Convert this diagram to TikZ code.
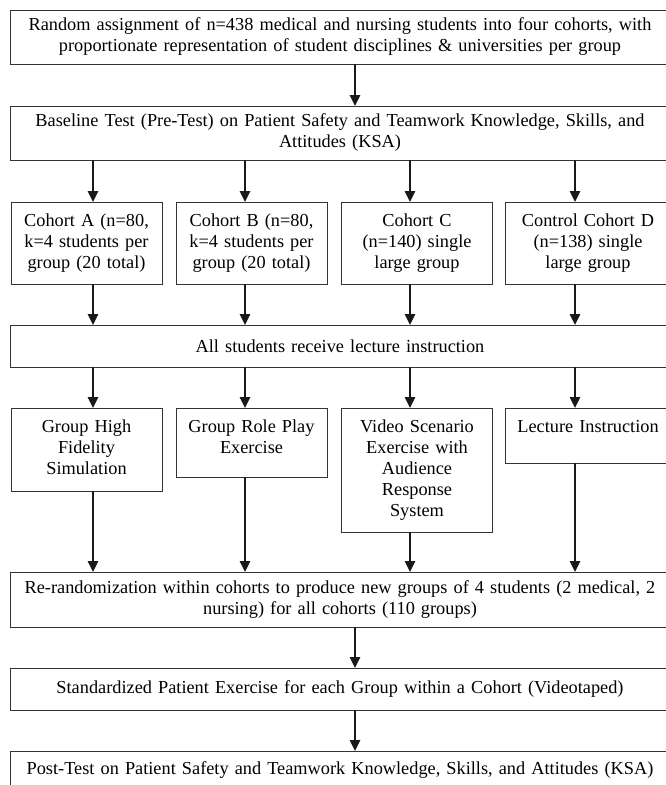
\documentclass[tikz,border=0pt]{standalone}
\usepackage{fontspec}
\setmainfont{Liberation Serif}
\usetikzlibrary{arrows.meta}
\begin{document}
\begin{tikzpicture}[x=1pt, y=-1pt,
  every node/.style = {draw=black!80, line width=0.8pt, outer sep=0pt,
    inner xsep=4pt, align=center, font=\fontsize{18.3}{21}\selectfont},
  wide/.style = {minimum width=660pt, text width=640pt, anchor=north,
    minimum height=#1},
  col/.style = {text width=143pt, anchor=north, inner ysep=11pt,
    text height=13pt, text depth=#1},
  arr/.style = {line width=2.6pt, draw=black!90,
    -{Triangle[length=11pt, width=10pt]}}]
  \useasboundingbox (0,0) rectangle (665,785);
  \node[wide=54pt] (rand) at (340,10) {Random assignment of n=438 medical and nursing students into four cohorts, with\\ proportionate representation of student disciplines \& universities per group};
  \node[wide=54pt] (pre) at (340,106) {Baseline Test (Pre-Test) on Patient Safety and Teamwork Knowledge, Skills, and\\ Attitudes (KSA)};
  \node[col=47pt] (coha) at (86.5,202) {Cohort A (n=80,\\ k=4 students per\\ group (20 total)};
  \node[col=47pt] (cohb) at (251.5,202) {Cohort B (n=80,\\ k=4 students per\\ group (20 total)};
  \node[col=47pt] (cohc) at (417,202) {Cohort C\\ (n=140) single\\ large group};
  \node[col=47pt, text width=158pt] (cohd) at (588,202) {Control Cohort D\\ (n=138) single\\ large group};
  \node[wide=42pt] (lect) at (340,325) {All students receive lecture instruction};
  \node[col=48pt] (acta) at (86.5,408) {Group High\\ Fidelity\\ Simulation};
  \node[col=34pt] (actb) at (251.5,408) {Group Role Play\\ Exercise};
  \node[col=89pt] (actc) at (417,408) {Video Scenario\\ Exercise with\\ Audience\\ Response\\ System};
  \node[col=20pt, text width=158pt] (actd) at (588,408) {Lecture Instruction};
  \node[wide=55pt] (rerand) at (340,572) {Re-randomization within cohorts to produce new groups of 4 students (2 medical, 2\\ nursing) for all cohorts (110 groups)};
  \node[wide=42pt] (std) at (340,668) {Standardized Patient Exercise for each Group within a Cohort (Videotaped)};
  \node[wide=38pt] (post) at (340,751) {Post-Test on Patient Safety and Teamwork Knowledge, Skills, and Attitudes (KSA)};
  \coordinate (xm) at (355,0);
  \coordinate (xa) at (93,0);
  \coordinate (xb) at (245,0);
  \coordinate (xc) at (410,0);
  \coordinate (xd) at (575,0);
  \draw[arr] (rand.south -| xm) -- (pre.north -| xm);
  \foreach \c in {a,b,c,d} {
    \draw[arr] (pre.south -| x\c) -- (coh\c.north -| x\c);
    \draw[arr] (coh\c.south -| x\c) -- (lect.north -| x\c);
    \draw[arr] (lect.south -| x\c) -- (act\c.north -| x\c);
    \draw[arr] (act\c.south -| x\c) -- (rerand.north -| x\c);
  }
  \draw[arr] (rerand.south -| xm) -- (std.north -| xm);
  \draw[arr] (std.south -| xm) -- (post.north -| xm);
\end{tikzpicture}
\end{document}
